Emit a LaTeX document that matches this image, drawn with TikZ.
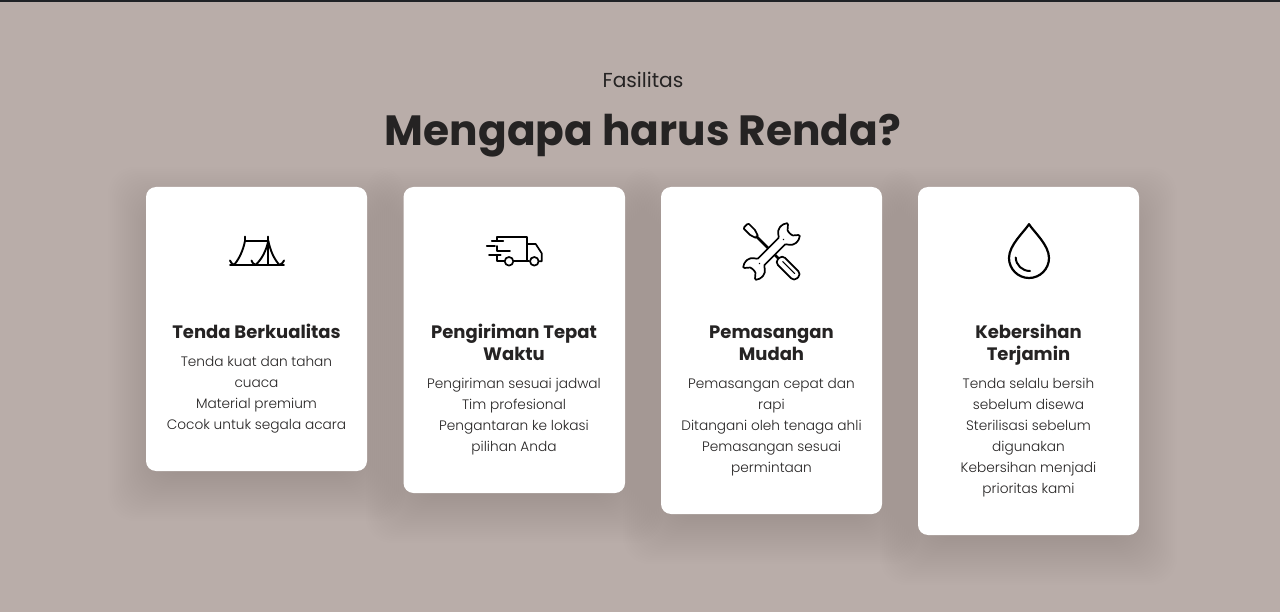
\documentclass[tikz,border=0pt]{standalone}
\usepackage{fontspec}
\setmainfont{Poppins}
\newfontfamily\lite{Poppins Light}
\definecolor{bgc}{HTML}{B9ADA9}
\definecolor{ink}{HTML}{252323}
\definecolor{shadowc}{HTML}{5A4A48}
\definecolor{topbar}{HTML}{1F2226}
\tikzset{
 cardbox/.style={fill=white,rounded corners=10pt,draw=none},
 icon/.style={draw=black,line width=1.9pt,line cap=round,line join=round},
 ctitle/.style={text=ink,align=center,anchor=north,font=\bfseries\fontsize{18}{21.3}\selectfont},
 cbody/.style={text=ink,align=center,anchor=north,font=\lite\fontsize{13.7}{21}\selectfont},
}
\newcommand{\softshadow}[4]{%
 \foreach \s in {1,...,30}{
  \fill[shadowc,opacity=0.0042,rounded corners=26]
   ({#1-40+2*\s},{#2-22+2*\s}) rectangle ({#3+40-2*\s},{#4+52-2*\s});
 }}
\begin{document}
\begin{tikzpicture}[x=1pt,y=-1pt]
\useasboundingbox (0,0) rectangle (1280,612);
\fill[bgc] (0,0) rectangle (1280,612);
\fill[topbar] (0,0) rectangle (1280,2);

\softshadow{146}{187}{367}{471}
\softshadow{403.5}{187}{625}{493}
\softshadow{661}{187}{882}{514}
\softshadow{918}{187}{1139}{535}

\fill[cardbox] (146,187) rectangle (367,471);
\fill[cardbox] (403.5,187) rectangle (625,493);
\fill[cardbox] (661,187) rectangle (882,514);
\fill[cardbox] (918,187) rectangle (1139,535);

\node[text=ink,anchor=base,font=\fontsize{20.2}{24}\selectfont] (kicker) at (643,88) {Fasilitas};
\node[text=ink,anchor=base,font=\bfseries\fontsize{42.3}{50}\selectfont] (headline) at (643,146) {Mengapa harus Renda?};

\node[ctitle] (t1) at (256.5,321) {\vphantom{Apg}Tenda Berkualitas};
\node[cbody] (b1) at (256.5,353) {Tenda kuat dan tahan\\cuaca\\Material premium\\Cocok untuk segala acara};
\node[ctitle] (t2) at (514,321) {\vphantom{Apg}Pengiriman Tepat\\Waktu};
\node[cbody] (b2) at (514,375) {Pengiriman sesuai jadwal\\Tim profesional\\Pengantaran ke lokasi\\pilihan Anda};
\node[ctitle] (t3) at (771.5,322.6) {\vphantom{Apg}Pemasangan\\Mudah};
\node[cbody] (b3) at (771.5,375) {Pemasangan cepat dan\\rapi\\Ditangani oleh tenaga ahli\\Pemasangan sesuai\\permintaan};
\node[ctitle] (t4) at (1028.5,321) {\vphantom{Apg}Kebersihan\\Terjamin};
\node[cbody] (b4) at (1028.5,375) {Tenda selalu bersih\\sebelum disewa\\Sterilisasi sebelum\\digunakan\\Kebersihan menjadi\\prioritas kami};

% tent
\draw[icon] (245,236.5) -- (245,241) -- (268.3,241);
\draw[icon] (268.3,236.5) -- (268.3,265);
\draw[icon] (230,265) -- (284,265);
\draw[icon] (245,241) .. controls (243,251) and (239,259) .. (234,265) .. controls (232,264) and (230.5,262) .. (230,260.5);
\draw[icon] (268.3,241) .. controls (266,251) and (262,259) .. (255.5,265) .. controls (253,264) and (252,262) .. (251.5,260.5);
\draw[icon] (268.3,241) .. controls (270.5,251) and (274,259) .. (279.5,265) .. controls (282,264) and (283.5,262) .. (284,260.5);

% truck
\draw[icon,line width=1.7pt] (496.7,241) -- (496.7,237) -- (527.3,237) -- (527.3,261.3);
\draw[icon,line width=1.7pt] (514,261.3) -- (529,261.3);
\draw[icon,line width=1.7pt] (496.7,255) -- (496.7,261.3) -- (504,261.3);
\draw[icon,line width=1.7pt] (491.7,241) -- (503.3,241);
\draw[icon,line width=1.7pt] (486.7,245.7) -- (495,245.7);
\draw[icon,line width=1.7pt] (496.7,246) -- (496.7,250.7) -- (510,250.7);
\draw[icon,line width=1.7pt] (489,254.7) -- (500.7,254.7);
\draw[icon,line width=1.7pt] (527.3,244) -- (535.7,244) -- (541.7,253.3) -- (541.7,261.3) -- (539.5,261.3);
\draw[icon,line width=1.7pt] (509,261.3) circle (4.3);
\draw[icon,line width=1.7pt] (534.3,261.3) circle (4.3);

% screwdriver
\begin{scope}[shift={(771.5,251.5)},rotate=-45]
\draw[icon,line width=1.7pt,fill=white] (-36.5,-2) -- (-35.5,-3.5) -- (-27,-3.5) -- (-21,-1.6) -- (-21,1.6) -- (-27,3.5) -- (-35.5,3.5) -- (-36.5,2) -- cycle;
\draw[icon,line width=2.6pt] (-21,0) -- (11,0);
\draw[icon,line width=1.7pt,fill=white,rounded corners=4] (10,-5) -- (37,-5) -- (37,5) -- (10,5) -- cycle;
\draw[icon,line width=1.1pt] (15,-0.8) -- (32,-0.8);
\end{scope}

% wrench
\begin{scope}[shift={(771.5,251.5)},rotate=45]
\foreach \r in {0,180}{
\begin{scope}[rotate=\r]
\path[fill=white] (-0.5,-4.6) rectangle (15,4.6);
\draw[icon,line width=1.7pt,fill=white] (0,-4.6) -- (14.5,-4.6)
  .. controls (16.5,-5) and (17,-10.5) .. (23,-11.2)
  .. controls (26.5,-11.5) and (29.5,-10.5) .. (31,-9)
  .. controls (31.5,-8.4) and (31.3,-8) .. (30.7,-7.4)
  -- (26.5,-3.8)
  .. controls (25.5,-2.5) and (25.5,2.5) .. (26.5,3.8)
  -- (30.7,7.4)
  .. controls (31.3,8) and (31.5,8.4) .. (31,9)
  .. controls (29.5,10.5) and (26.5,11.5) .. (23,11.2)
  .. controls (17,10.5) and (16.5,5) .. (14.5,4.6) -- (0,4.6);
\end{scope}}
\fill[black] (-17,0) circle (0.9);
\fill[black] (17,0) circle (0.9);
\end{scope}

% drop
\draw[icon,line width=2.2pt] (1029,224.2) .. controls (1024,232) and (1009,245) .. (1009,258) .. controls (1009,269) and (1018,278) .. (1029,278) .. controls (1040,278) and (1049,269) .. (1049,258) .. controls (1049,245) and (1034,232) .. (1029,224.2) -- cycle;
\draw[icon,line width=2pt] (1015.7,257.5) .. controls (1016,265) and (1022,271) .. (1030,271);
\end{tikzpicture}
\end{document}
